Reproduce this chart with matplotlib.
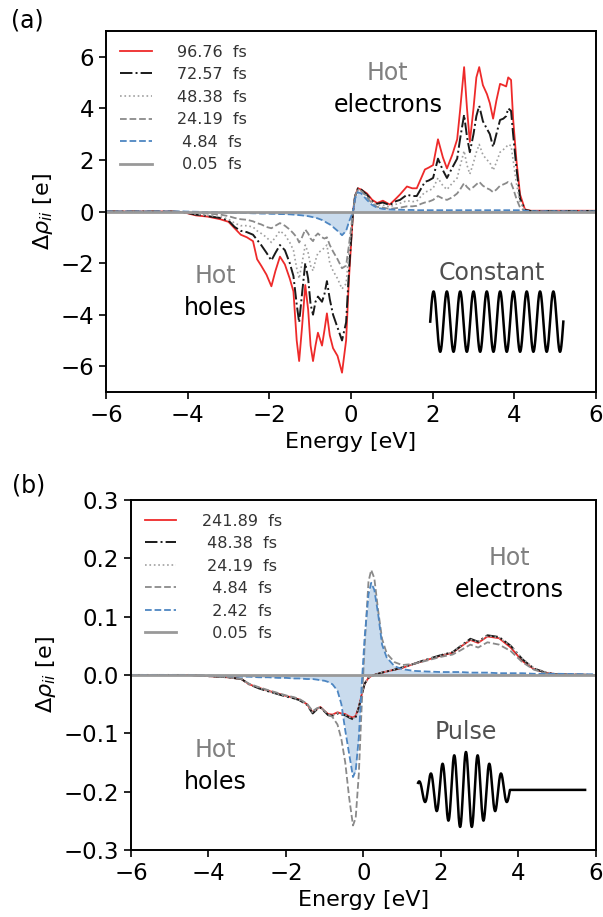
import numpy as np
import matplotlib
matplotlib.use('Agg')
import matplotlib.pyplot as plt

# --- DATI pannello (a): impulso costante ---
energia_a = [-6.0, -4.4, -4.1, -3.8, -3.5, -3.2, -3.0, -2.85, -2.7, -2.55,
             -2.4, -2.3, -2.2, -2.07, -1.95, -1.85, -1.74, -1.62, -1.5, -1.41,
             -1.33, -1.27, -1.2, -1.12, -1.05, -0.99, -0.93, -0.87, -0.81, -0.71,
             -0.65, -0.59, -0.52, -0.44, -0.33, -0.22, -0.12, -0.05, 0.05, 0.1,
             0.17, 0.25, 0.39, 0.52, 0.64, 0.78, 0.95, 1.1, 1.2, 1.37,
             1.5, 1.61, 1.72, 1.81, 1.9, 2.01, 2.13, 2.25, 2.35, 2.48,
             2.6, 2.67, 2.77, 2.84, 2.91, 3.0, 3.07, 3.14, 3.23, 3.33,
             3.4, 3.48, 3.56, 3.65, 3.73, 3.8, 3.85, 3.92, 3.97, 4.05,
             4.14, 4.26, 4.4, 6.0]

rho_a_9676 = [0, 0, -0.03, -0.15, -0.2, -0.3, -0.4, -0.65, -0.9, -1.0,
              -1.15, -1.85, -2.1, -2.45, -2.9, -2.3, -1.75, -2.05, -2.6, -3.1,
              -5.0, -5.8, -4.5, -2.85, -3.8, -5.2, -5.8, -5.2, -4.7, -5.2,
              -4.6, -3.95, -4.8, -5.3, -5.6, -6.25, -5.0, -2.6, 0.0, 0.6,
              0.9, 0.85, 0.7, 0.45, 0.33, 0.42, 0.27, 0.5, 0.66, 0.97,
              0.9, 0.9, 1.3, 1.63, 1.7, 1.8, 2.8, 2.1, 1.67, 2.2,
              2.8, 3.9, 5.6, 4.0, 2.7, 4.0, 5.2, 5.6, 4.9, 4.55,
              4.2, 3.6, 4.3, 4.95, 4.9, 4.85, 5.2, 5.1, 3.6, 2.0,
              0.66, 0.08, 0.03, 0.03]

rho_a_7257 = [0, 0, -0.03, -0.12, -0.18, -0.25, -0.35, -0.6, -0.75, -0.8,
              -0.9, -1.1, -1.3, -1.6, -1.9, -1.6, -1.3, -1.5, -2.0, -2.5,
              -3.6, -4.3, -3.2, -2.0, -2.6, -3.6, -4.0, -3.5, -3.3, -3.5,
              -3.2, -2.7, -3.4, -4.0, -4.5, -5.0, -4.3, -2.3, 0.0, 0.6,
              0.9, 0.85, 0.65, 0.4, 0.3, 0.35, 0.25, 0.4, 0.45, 0.65,
              0.6, 0.6, 0.9, 1.15, 1.2, 1.3, 2.05, 1.6, 1.3, 1.7,
              2.05, 2.8, 3.75, 2.9, 2.3, 3.0, 3.7, 4.1, 3.5, 3.2,
              3.0, 2.5, 3.0, 3.55, 3.6, 3.7, 4.0, 3.9, 3.0, 1.7,
              0.5, 0.06, 0.02, 0.02]

rho_a_4838 = [0, 0, -0.02, -0.1, -0.15, -0.2, -0.3, -0.45, -0.55, -0.55,
              -0.6, -0.75, -0.85, -1.0, -1.2, -1.0, -0.75, -0.9, -1.2, -1.5,
              -2.2, -2.6, -2.0, -1.3, -1.6, -2.1, -2.3, -1.9, -1.6, -1.5,
              -1.4, -1.3, -2.0, -2.3, -2.6, -3.0, -2.8, -1.6, 0.0, 0.6,
              0.85, 0.8, 0.6, 0.35, 0.25, 0.25, 0.18, 0.28, 0.32, 0.42,
              0.38, 0.4, 0.6, 0.75, 0.8, 0.9, 1.3, 1.0, 0.85, 1.1,
              1.3, 1.75, 2.35, 1.8, 1.45, 1.9, 2.3, 2.6, 2.2, 2.0,
              1.9, 1.6, 1.9, 2.3, 2.4, 2.5, 2.6, 2.55, 2.0, 1.1,
              0.35, 0.04, 0.01, 0.01]

rho_a_2419 = [0, 0, -0.01, -0.05, -0.08, -0.12, -0.18, -0.25, -0.3, -0.32,
              -0.38, -0.45, -0.5, -0.6, -0.65, -0.55, -0.45, -0.55, -0.7, -0.85,
              -1.0, -1.2, -1.0, -0.7, -0.85, -1.05, -1.15, -0.95, -0.85, -1.0,
              -1.05, -1.0, -1.3, -1.55, -1.85, -2.2, -2.1, -1.3, 0.0, 0.6,
              0.85, 0.8, 0.55, 0.3, 0.18, 0.15, 0.1, 0.13, 0.15, 0.2,
              0.2, 0.22, 0.3, 0.35, 0.38, 0.45, 0.6, 0.5, 0.45, 0.55,
              0.7, 0.85, 1.1, 0.95, 0.85, 0.95, 1.05, 1.15, 1.0, 0.9,
              0.85, 0.75, 0.85, 1.0, 1.05, 1.1, 1.15, 1.1, 0.9, 0.5,
              0.15, 0.02, 0.0, 0.0]

rho_a_484 = [0, 0, 0, -0.01, -0.02, -0.03, -0.04, -0.05, -0.05, -0.06,
             -0.07, -0.07, -0.08, -0.08, -0.09, -0.09, -0.1, -0.1, -0.11, -0.12,
             -0.13, -0.14, -0.15, -0.17, -0.18, -0.2, -0.22, -0.24, -0.27, -0.33,
             -0.38, -0.44, -0.5, -0.6, -0.75, -0.92, -0.75, -0.4, 0.0, 0.5,
             0.75, 0.7, 0.45, 0.25, 0.15, 0.1, 0.08, 0.07, 0.07, 0.06,
             0.06, 0.05, 0.05, 0.05, 0.05, 0.05, 0.05, 0.05, 0.05, 0.05,
             0.05, 0.05, 0.05, 0.05, 0.05, 0.05, 0.05, 0.05, 0.05, 0.05,
             0.05, 0.05, 0.05, 0.05, 0.05, 0.05, 0.05, 0.05, 0.05, 0.05,
             0.05, 0.03, 0.01, 0.0]

energia_zero = [-6.0, 6.0]
rho_zero = [0.0, 0.0]

etichette_a = ['96.76  fs', '72.57  fs', '48.38  fs', '24.19  fs', ' 4.84  fs', ' 0.05  fs']

# --- DATI pannello (b): impulso gaussiano ---
energia_b = [-6.0, -4.5, -4.0, -3.5, -3.15, -2.95, -2.7, -2.46, -2.2, -2.0,
             -1.8, -1.66, -1.46, -1.31, -1.2, -1.11, -1.0, -0.91, -0.8, -0.67,
             -0.57, -0.47, -0.37, -0.27, -0.2, -0.12, -0.05, 0.03, 0.13, 0.2,
             0.28, 0.38, 0.48, 0.6, 0.8, 1.0, 1.3, 1.6, 2.0, 2.3,
             2.5, 2.76, 2.96, 3.2, 3.5, 3.8, 4.1, 4.4, 4.7, 5.0, 6.0]

rho_b_24189 = [0, 0, -0.002, -0.004, -0.007, -0.016, -0.022, -0.027, -0.032, -0.036,
               -0.039, -0.042, -0.05, -0.064, -0.058, -0.055, -0.062, -0.067, -0.068, -0.064,
               -0.066, -0.067, -0.071, -0.073, -0.07, -0.055, -0.035, -0.015, -0.005, -0.002,
               0.0, 0.002, 0.004, 0.006, 0.009, 0.012, 0.019, 0.025, 0.033, 0.038,
               0.048, 0.06, 0.055, 0.066, 0.063, 0.047, 0.024, 0.01, 0.004, 0.001, 0.0]

rho_b_4838 = [0, 0, -0.002, -0.004, -0.007, -0.016, -0.023, -0.028, -0.033, -0.037,
              -0.04, -0.043, -0.051, -0.066, -0.059, -0.056, -0.063, -0.069, -0.07, -0.066,
              -0.068, -0.069, -0.073, -0.076, -0.072, -0.056, -0.036, -0.015, -0.005, -0.002,
              0.0, 0.002, 0.004, 0.006, 0.009, 0.013, 0.019, 0.026, 0.034, 0.039,
              0.049, 0.062, 0.057, 0.068, 0.065, 0.05, 0.027, 0.011, 0.004, 0.001, 0.0]

rho_b_2419 = [0, 0, -0.002, -0.004, -0.007, -0.016, -0.022, -0.028, -0.033, -0.036,
              -0.04, -0.043, -0.05, -0.065, -0.058, -0.056, -0.062, -0.068, -0.069, -0.065,
              -0.067, -0.068, -0.072, -0.075, -0.071, -0.055, -0.035, -0.015, -0.005, -0.002,
              0.0, 0.002, 0.004, 0.006, 0.009, 0.013, 0.019, 0.026, 0.034, 0.039,
              0.049, 0.061, 0.056, 0.067, 0.064, 0.05, 0.028, 0.012, 0.005, 0.001, 0.0]

rho_b_484 = [0, 0, -0.002, -0.004, -0.007, -0.015, -0.021, -0.026, -0.031, -0.035,
             -0.038, -0.041, -0.049, -0.062, -0.057, -0.055, -0.062, -0.068, -0.072, -0.085,
             -0.11, -0.15, -0.21, -0.258, -0.245, -0.17, -0.06, 0.05, 0.16, 0.18,
             0.166, 0.11, 0.062, 0.037, 0.022, 0.017, 0.019, 0.024, 0.031, 0.035,
             0.042, 0.052, 0.047, 0.056, 0.052, 0.041, 0.022, 0.009, 0.003, 0.001, 0.0]

rho_b_242 = [0, 0, -0.001, -0.002, -0.003, -0.003, -0.004, -0.004, -0.005, -0.005,
             -0.006, -0.006, -0.007, -0.007, -0.008, -0.009, -0.01, -0.012, -0.016, -0.027,
             -0.05, -0.095, -0.135, -0.175, -0.164, -0.107, -0.022, 0.064, 0.138, 0.158,
             0.146, 0.104, 0.052, 0.03, 0.015, 0.01, 0.007, 0.006, 0.005, 0.005,
             0.005, 0.004, 0.004, 0.004, 0.003, 0.003, 0.003, 0.002, 0.002, 0.002, 0.001]

etichette_b = ['241.89  fs', ' 48.38  fs', ' 24.19  fs', '  4.84  fs', '  2.42  fs', '  0.05  fs']

# stili delle curve (stesso ordine delle etichette)
stili = [dict(color='#ee2a2a', ls='-', lw=1.3),
         dict(color='#1a1a1a', ls='-.', lw=1.4),
         dict(color='#a0a0a0', ls=':', lw=1.2),
         dict(color='#8a8a8a', ls='--', lw=1.3),
         dict(color='#4d86c2', ls='--', lw=1.3),
         dict(color='#999999', ls='-', lw=2.0)]
colore_fill = '#c9dbed'
font_testo = 'DejaVu Sans'

fig = plt.figure(figsize=(6.03, 9.17), dpi=100)
ax1 = fig.add_axes([0.1758, 0.5725, 0.8126, 0.3937])
ax2 = fig.add_axes([0.2172, 0.0731, 0.7711, 0.3817])


def disegna(ax, energia, serie, etichette, blu):
    ax.fill_between(energia, blu, 0, color=colore_fill, lw=0)
    for rho, lab, st in zip(serie, etichette[:5], stili[:5]):
        ax.plot(energia, rho, label=lab, **st)
    ax.plot(energia_zero, rho_zero, label=etichette[5], **stili[5])
    leg = ax.legend(loc='upper left', bbox_to_anchor=(0.0, 1.0), frameon=False,
                    fontsize=11.5, handlelength=2.0, handletextpad=1.6,
                    labelspacing=0.47, borderaxespad=0.45)
    for t in leg.get_texts():
        t.set_color('#333333')
    ax.set_xlim(-6, 6)
    ax.set_xticks([-6, -4, -2, 0, 2, 4, 6])
    ax.set_xlabel('Energy [eV]', fontsize=16)
    ax.set_ylabel(r'$\Delta\rho_{ii}$ [e]', fontsize=16)
    ax.tick_params(labelsize=16.5, length=5, width=1.2)
    for s in ax.spines.values():
        s.set_linewidth(1.4)


# --- (a) ---
disegna(ax1, energia_a, [rho_a_9676, rho_a_7257, rho_a_4838, rho_a_2419, rho_a_484],
        etichette_a, rho_a_484)
ax1.set_ylim(-7, 7)
ax1.set_yticks([-6, -4, -2, 0, 2, 4, 6])
ax1.text(0.9, 5.36, 'Hot', color='#808080', fontsize=17, ha='center', va='center', family=font_testo)
ax1.text(0.92, 4.12, 'electrons', color='black', fontsize=17, ha='center', va='center', family=font_testo)
ax1.text(-3.33, -2.52, 'Hot', color='#808080', fontsize=17, ha='center', va='center', family=font_testo)
ax1.text(-3.33, -3.76, 'holes', color='black', fontsize=17, ha='center', va='center', family=font_testo)
ax1.text(3.45, -2.4, 'Constant', color='#505050', fontsize=17, ha='center', va='center', family=font_testo)

# icona onda costante (schema, non dati)
t = np.linspace(0, 1, 600)
ax1.plot(1.94 + 3.26 * t, -4.27 + 1.17 * np.sin(2 * np.pi * 10 * t), color='black', lw=1.8)

# --- (b) ---
disegna(ax2, energia_b, [rho_b_24189, rho_b_4838, rho_b_2419, rho_b_484, rho_b_242],
        etichette_b, rho_b_242)
ax2.set_ylim(-0.3, 0.3)
ax2.set_yticks([-0.3, -0.2, -0.1, 0.0, 0.1, 0.2, 0.3])
ax2.text(3.78, 0.2, 'Hot', color='#808080', fontsize=17, ha='center', va='center', family=font_testo)
ax2.text(3.77, 0.145, 'electrons', color='black', fontsize=17, ha='center', va='center', family=font_testo)
ax2.text(2.65, -0.097, 'Pulse', color='#505050', fontsize=17, ha='center', va='center', family=font_testo)
ax2.text(-3.83, -0.128, 'Hot', color='#808080', fontsize=17, ha='center', va='center', family=font_testo)
ax2.text(-3.83, -0.183, 'holes', color='black', fontsize=17, ha='center', va='center', family=font_testo)

# icona impulso (schema, non dati)
e_osc = np.linspace(1.41, 3.78, 500)
y_osc = -0.197 + 0.065 * np.exp(-(e_osc - 2.645) ** 2 / (2 * 0.7 ** 2)) * np.cos(2 * np.pi * (e_osc - 2.645) / 0.3027)
ax2.plot(np.r_[e_osc, 5.72], np.r_[y_osc, -0.197], color='black', lw=1.8)

fig.text(0.018, 0.978, '(a)', fontsize=17, va='center', ha='left')
fig.text(0.02, 0.471, '(b)', fontsize=17, va='center', ha='left')

plt.savefig('out.png', dpi=100)
